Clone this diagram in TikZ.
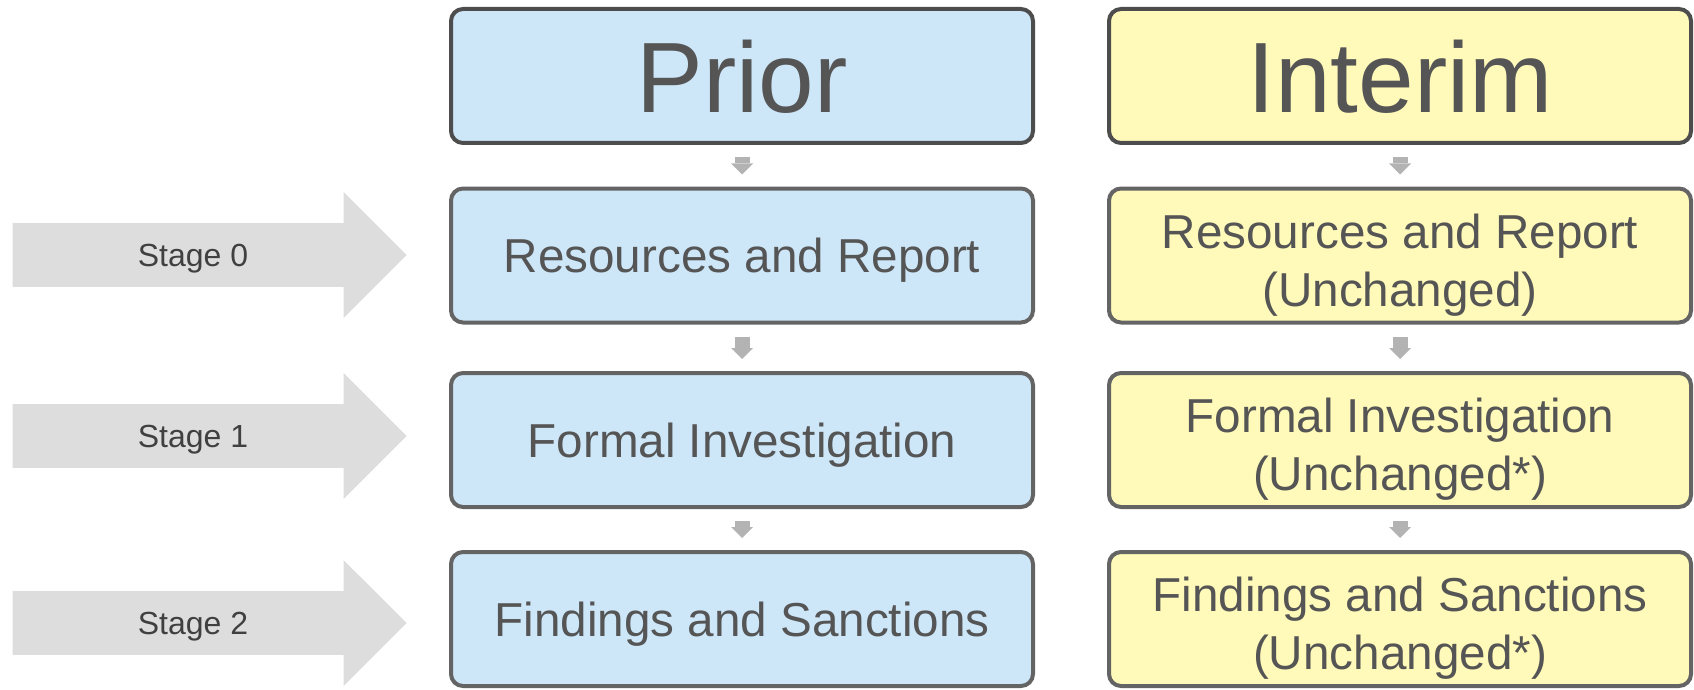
\documentclass[tikz,border=0pt]{standalone}
\usepackage{fontspec}
\setmainfont{Liberation Sans}
\usetikzlibrary{shapes.arrows,arrows.meta}
\definecolor{priorfill}{RGB}{205,231,249}
\definecolor{interimfill}{RGB}{255,250,185}
\definecolor{headline}{RGB}{77,77,77}
\definecolor{boxline}{RGB}{100,100,100}
\definecolor{boxtext}{RGB}{85,85,85}
\definecolor{stagefill}{RGB}{221,221,221}
\definecolor{stagetext}{RGB}{64,64,64}
\definecolor{flowgray}{RGB}{179,179,179}

\begin{document}
\begin{tikzpicture}[
		block/.style={draw=boxline,line width=0.08cm,rounded corners=0.24cm,minimum width=11.64cm,minimum height=2.68cm,inner sep=0pt,align=center,text=boxtext,text depth=0pt,font=\fontsize{27.1}{33}\selectfont},
		head/.style={block,draw=headline,font=\fontsize{56.9}{68}\selectfont},
		prior/.style={fill=priorfill},
		interim/.style={fill=interimfill},
		twoline/.style={text height=58pt},
		stage/.style={single arrow,fill=stagefill,draw=none,minimum height=7.88cm,minimum width=2.5cm,single arrow head extend=0.62cm,single arrow tip angle=90,inner xsep=0pt,inner ysep=0.63cm,anchor=tip},
		stage text/.style={text=stagetext,font=\fontsize{18.2}{22}\selectfont},
		flow/.style={draw=flowgray,line width=0.3cm,-{Triangle[width=0.44cm,length=0.22cm,line width=0pt]},shorten <=0.24cm,shorten >=0.24cm}
		]
		\useasboundingbox (0,0) rectangle (33.88,-13.8);

		\path (14.84,-1.52) node[head,prior] (prior) {Prior}
		 ++(0,-3.59) node[block,prior] (prior res) {Resources and Report}
		 ++(0,-3.69) node[block,prior] (prior inv) {Formal Investigation}
		 ++(0,-3.58) node[block,prior] (prior find) {Findings and Sanctions};
		\draw[flow] (prior) -- (prior res);
		\draw[flow] (prior res) -- (prior inv);
		\draw[flow] (prior inv) -- (prior find);

		\path (28.0,-1.52) node[head,interim] (interim) {Interim}
		 ++(0,-3.59) node[block,interim,twoline] (interim res) {Resources and Report\\(Unchanged)}
		 ++(0,-3.69) node[block,interim,twoline] (interim inv) {Formal Investigation\\(Unchanged*)}
		 ++(0,-3.58) node[block,interim,twoline] (interim find) {Findings and Sanctions\\(Unchanged*)};
		\draw[flow] (interim) -- (interim res);
		\draw[flow] (interim res) -- (interim inv);
		\draw[flow] (interim inv) -- (interim find);

		% stages on the left
		\path (8.14,-5.10) node[stage] (stage0) {}
		 ++(0,-3.62) node[stage] (stage1) {}
		 ++(0,-3.74) node[stage] (stage2) {};
		\path (3.86,-5.18) node[stage text] (stage0 text) {Stage 0}
		 ++(0,-3.62) node[stage text] (stage1 text) {Stage 1}
		 ++(0,-3.74) node[stage text] (stage2 text) {Stage 2};

	\end{tikzpicture}
\end{document}
